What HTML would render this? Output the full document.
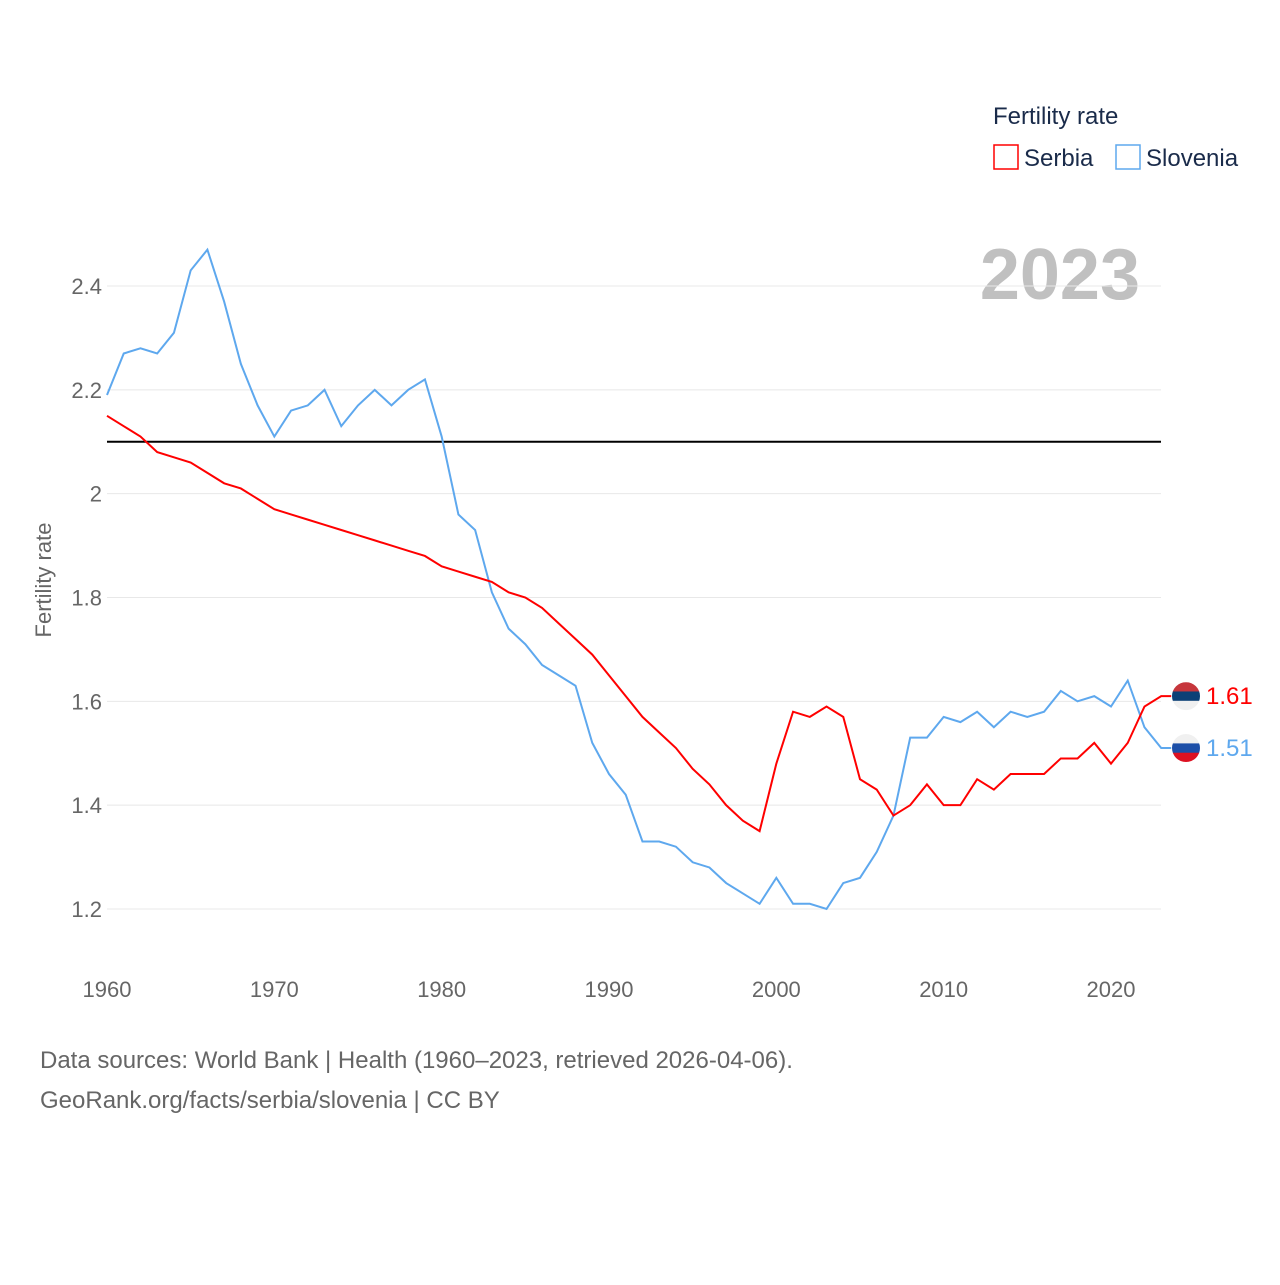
<!DOCTYPE html>
<html><head><meta charset="utf-8"><style>
body{margin:0;background:#fff;font-family:"Liberation Sans",sans-serif}
</style></head><body>
<svg id="chart" width="1280" height="1280" xmlns="http://www.w3.org/2000/svg" font-family="Liberation Sans, sans-serif">
<defs>
<clipPath id="c1"><circle cx="1186" cy="0" r="14"/></clipPath>
</defs>
<text x="993" y="124" font-size="24" fill="#1a2b4a">Fertility rate</text>
<g><rect x="994" y="145" width="24" height="24" fill="none" stroke="#ff0000" stroke-width="1.5"/><text x="1024" y="166" font-size="24" fill="#1a2b4a">Serbia</text></g>
<g><rect x="1116" y="145" width="24" height="24" fill="none" stroke="#5ea8ee" stroke-width="1.5"/><text x="1146" y="166" font-size="24" fill="#1a2b4a">Slovenia</text></g>
<text x="1140" y="299" font-size="72" font-weight="bold" fill="#c0c0c0" text-anchor="end">2023</text>
<text transform="translate(51,580) rotate(-90)" font-size="22" fill="#666" text-anchor="middle">Fertility rate</text>
<g id="grid"></g><g id="ylab"></g><g id="xlab"></g><g id="lines"></g>
<text x="40" y="1068" font-size="24" fill="#666">Data sources: World Bank | Health (1960–2023, retrieved 2026-04-06).</text>
<text x="40" y="1108" font-size="24" fill="#666">GeoRank.org/facts/serbia/slovenia | CC BY</text>
</svg>
<script>
const years=[];for(let y=1960;y<=2023;y++)years.push(y);
const serbia=[2.15,2.13,2.11,2.08,2.07,2.06,2.04,2.02,2.01,1.99,1.97,1.96,1.95,1.94,1.93,1.92,1.91,1.90,1.89,1.88,1.86,1.85,1.84,1.83,1.81,1.80,1.78,1.75,1.72,1.69,1.65,1.61,1.57,1.54,1.51,1.47,1.44,1.40,1.37,1.35,1.48,1.58,1.57,1.59,1.57,1.45,1.43,1.38,1.40,1.44,1.40,1.40,1.45,1.43,1.46,1.46,1.46,1.49,1.49,1.52,1.48,1.52,1.59,1.61];
const slovenia=[2.19,2.27,2.28,2.27,2.31,2.43,2.47,2.37,2.25,2.17,2.11,2.16,2.17,2.20,2.13,2.17,2.20,2.17,2.20,2.22,2.11,1.96,1.93,1.81,1.74,1.71,1.67,1.65,1.63,1.52,1.46,1.42,1.33,1.33,1.32,1.29,1.28,1.25,1.23,1.21,1.26,1.21,1.21,1.20,1.25,1.26,1.31,1.38,1.53,1.53,1.57,1.56,1.58,1.55,1.58,1.57,1.58,1.62,1.60,1.61,1.59,1.64,1.55,1.51];
const yTicks=[1.2,1.4,1.6,1.8,2,2.2,2.4];
const xTicks=[1960,1970,1980,1990,2000,2010,2020];
const replacement=[2.1];
const NS="http://www.w3.org/2000/svg";
const X=y=>107+(y-1960)*(1111-107)/60;
const Y=v=>909-(v-1.2)*(909-286)/1.2;
function mk(t,a,p){const e=document.createElementNS(NS,t);for(const k in a)e.setAttribute(k,a[k]);(typeof p==='string'?document.getElementById(p):p).appendChild(e);return e;}
yTicks.forEach(v=>{
 const g=mk('line',{x1:107,x2:1161,y1:Y(v),y2:Y(v),stroke:'#e8e8e8','stroke-width':1},'grid');
 
 
 const t=mk('text',{x:102,y:Y(v)+8,'font-size':22,fill:'#666','text-anchor':'end'},'ylab');t.textContent=String(v);
 
 
});
xTicks.forEach(v=>{
 const t=mk('text',{x:X(v),y:997,'font-size':22,fill:'#666','text-anchor':'middle'},'xlab');t.textContent=String(v);
 
 
});
const r=mk('line',{x1:107,x2:1161,y1:Y(replacement[0]),y2:Y(replacement[0]),stroke:'#000','stroke-width':2},'lines');


let cid=0;
function series(d,c,name,stripes){
 const last=d[d.length-1],ly=Y(last);
 const pts=d.map((v,i)=>X(years[i])+','+Y(v));pts.push((X(2023)+10)+','+ly);
 const p=mk('polyline',{points:pts.join(' '),fill:'none',stroke:c,'stroke-width':2},'lines');
 
 
 cid++;
 const cp=mk('clipPath',{id:'fc'+cid},'lines');
 mk('circle',{cx:1186,cy:ly,r:14},cp);
 const f=mk('g',{'clip-path':'url(#fc'+cid+')'},'lines');
 
 
 stripes.forEach((s,i)=>mk('rect',{x:1172,y:ly-14+i*28/3,width:28,height:28/3+0.5,fill:s},f));
 const t=mk('text',{x:1206,y:ly+8,'font-size':24,fill:c},'lines');t.textContent=last.toFixed(2);
 
 
}
series(slovenia,'#5ea8ee','slovenia',['#f0f0f0','#1c4fa8','#dd1122']);
series(serbia,'#ff0000','serbia',['#c6363c','#0c4076','#f0f0f0']);
</script>
</body></html>
